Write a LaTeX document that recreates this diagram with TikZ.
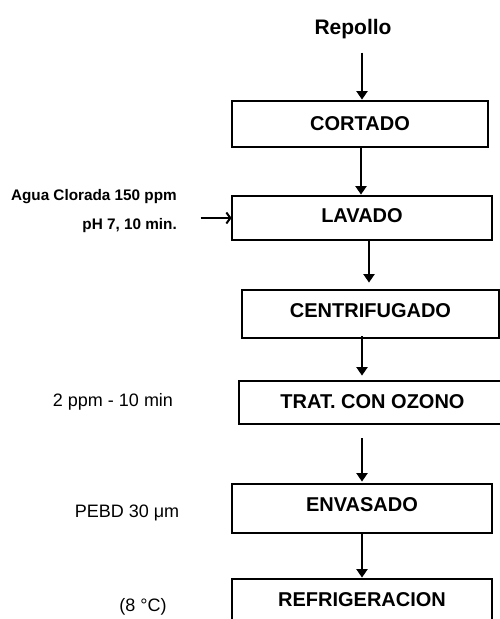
\documentclass[tikz,border=0pt]{standalone}
\usepackage{fontspec}
\setmainfont{Liberation Sans}
\usetikzlibrary{arrows.meta}
\begin{document}
\begin{tikzpicture}[x=1pt,y=-1pt,
  box/.style={draw, line width=2.8pt, inner sep=0pt, font=\fontsize{20}{24}\selectfont\bfseries},
  arr/.style={line width=2pt, -{Triangle[width=11pt,length=8.5pt]}},
  larr/.style={line width=2.2pt, -{Straight Barb[length=4pt,width=11pt,line width=2pt]}},
  sidebold/.style={inner sep=0pt, font=\fontsize{15.3}{18}\selectfont\bfseries},
  side/.style={inner sep=0pt, anchor=base, font=\fontsize{18}{21}\selectfont}
]
\useasboundingbox (0,0) rectangle (500,619);

% title
\node[anchor=base, inner sep=0pt, font=\fontsize{21}{25}\selectfont\bfseries] (repollo) at (353,34.3) {Repollo};

% process boxes
\node[box, minimum width=256pt, minimum height=46pt, text depth=1pt] (cortado) at (360,124) {CORTADO};
\node[box, minimum width=260pt, minimum height=44pt, text depth=4.4pt] (lavado) at (362,218) {LAVADO};
\node[box, minimum width=257pt, minimum height=48pt, text depth=6pt] (centri) at (370.5,314) {CENTRIFUGADO};
\node[box, minimum width=267pt, minimum height=43pt, text depth=2pt] (trat) at (372.5,402.5) {TRAT. CON OZONO};
\node[box, minimum width=260pt, minimum height=49pt, text depth=8pt] (envasado) at (362,508.5) {ENVASADO};
\node[box, minimum width=260pt, minimum height=50pt, text depth=9pt] (refrig) at (362,604) {REFRIGERACION};

% side labels
\node[sidebold, anchor=base east] (agua) at (177,200.7) {Agua Clorada 150 ppm};
\node[sidebold, anchor=base east] (ph) at (177,229) {pH 7, 10 min.};
\node[side] (ozono) at (113,406.7) {2 ppm - 10 min};
\node[side] (pebd) at (127,517.3) {PEBD 30 μm};
\node[side] (temp) at (143,611) {(8 °C)};

% connectors
\draw[arr] ([xshift=2pt,yshift=47pt]cortado.north) -- ([xshift=2pt]cortado.north);
\draw[arr] ([xshift=1pt]cortado.south) -- ([xshift=-1pt]lavado.north);
\draw[arr] ([xshift=7pt]lavado.south) -- ([xshift=-1.5pt,yshift=6pt]centri.north);
\draw[arr] ([xshift=-8.5pt,yshift=3pt]centri.south) -- ([xshift=-10.5pt,yshift=4pt]trat.north);
\draw[arr] ([xshift=-10.5pt,yshift=-13pt]trat.south) -- ([yshift=1pt]envasado.north);
\draw[arr] (envasado.south) -- (refrig.north);
\draw[larr] ([xshift=-30pt]lavado.west) -- ([xshift=1pt]lavado.west);
\end{tikzpicture}
\end{document}
